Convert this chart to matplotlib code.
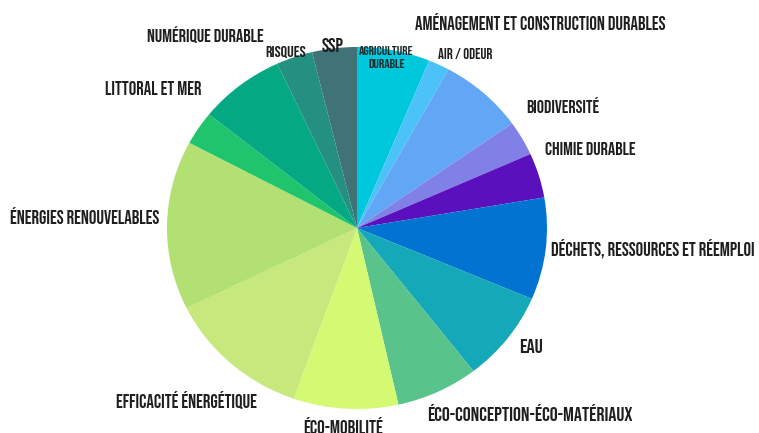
import matplotlib
matplotlib.use("Agg")
import matplotlib.pyplot as plt
from matplotlib import font_manager

categories = ["AGRICULTURE\nDURABLE", "AIR / ODEUR", "AMÉNAGEMENT ET CONSTRUCTION DURABLES",
              "BIODIVERSITÉ", "CHIMIE DURABLE", "DÉCHETS, RESSOURCES ET RÉEMPLOI", "EAU",
              "ÉCO-CONCEPTION-ÉCO-MATÉRIAUX", "ÉCO-MOBILITÉ", "EFFICACITÉ ÉNERGÉTIQUE",
              "ÉNERGIES RENOUVELABLES", "LITTORAL ET MER", "NUMÉRIQUE DURABLE", "RISQUES", "SSP"]
values = [6.2, 1.8, 7.2, 3.1, 4.0, 9.1, 8.1, 7.0, 8.9, 12.3, 15.1, 3.0, 7.3, 3.1, 3.8]
colors = ["#00c8dc", "#4cc3f8", "#62a6f6", "#8080e6", "#5b10be", "#0174d2", "#14a8b8",
          "#58c48c", "#d4fa74", "#c6e87c", "#b2e072", "#20c46c", "#04a882", "#249082", "#3f7378"]

# label layout in pixels: left x, center y, target width
label_left = [359, 438, 415, 526, 545, 551, 519, 427, 303, 116, 10, 105, 147, 265, 322]
label_y = [57, 53.5, 21.5, 105, 148.5, 249, 346, 413, 426, 400, 216, 88, 34.5, 52, 44.5]
label_w = [55, 55, 253, 74, 92, 206, 24, 207, 81, 143, 152, 97, 119, 41, 22]

names = {f.name for f in font_manager.fontManager.ttflist}
fam = "DejaVu Sans"
for cand in ["Bebas Neue", "Oswald", "League Gothic", "Fjalla One", "Roboto Condensed",
             "Liberation Sans Narrow"]:
    if cand in names:
        fam = cand
        break

W, H = 759, 433
fig = plt.figure(figsize=(W / 100, H / 100), dpi=100)
ax = fig.add_axes([0, 0, 1, 1])
cx, cy, rx, ry = 357, 228, 190, 181
ax.pie(values, colors=colors, startangle=90, counterclock=False, radius=1,
       wedgeprops=dict(linewidth=0))
ax.set_aspect("auto")
ax.set_xlim(-cx / rx, (W - cx) / rx)
ax.set_ylim(-(H - cy) / ry, cy / ry)
ax.axis("off")

renderer = fig.canvas.get_renderer()
for i, lab in enumerate(categories):
    px, py = label_left[i], label_y[i]
    kw = dict(va="center", family=fam, fontweight="normal")
    if i == 0:
        t = fig.text(0, 0, lab, ha="center", color="#1d2b2f", linespacing=1.4,
                     multialignment="center", fontsize=10, **kw)
    else:
        t = fig.text(0, 0, lab, ha="left", color="#1e1e1e", fontsize=10, **kw)
    w = t.get_window_extent(renderer).width
    fs = min(10 * label_w[i] / w, 18)
    t.set_fontsize(fs)
    if i == 0:
        t.set_position(((px + label_w[i] / 2) / W, 1 - py / H))
    else:
        t.set_position((px / W, 1 - py / H))

fig.savefig("out.png", dpi=100, facecolor="white")
